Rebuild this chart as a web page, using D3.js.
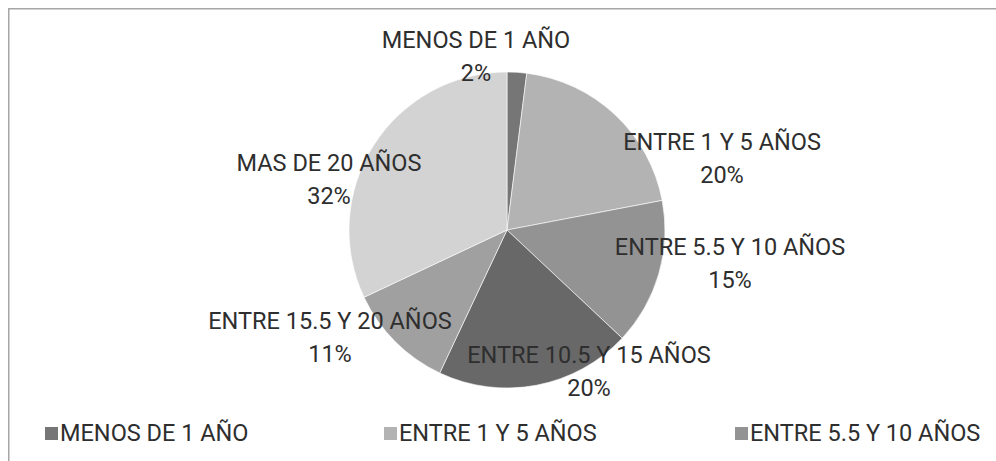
<!DOCTYPE html>
<html><head><meta charset="utf-8">
<script src="https://cdn.jsdelivr.net/npm/d3@7"></script>
<style>html,body{margin:0;padding:0;background:#fff;}svg{display:block;}</style>
</head><body>
<svg id="chart" width="996" height="461"></svg>
<script>
const categories = ["MENOS DE 1 AÑO","ENTRE 1 Y 5 AÑOS","ENTRE 5.5 Y 10 AÑOS","ENTRE 10.5 Y 15 AÑOS","ENTRE 15.5 Y 20 AÑOS","MAS DE 20 AÑOS"];
const values = [2, 20, 15, 20, 11, 32];
const percentLabels = ["2%","20%","15%","20%","11%","32%"];
const legendItems = categories.slice(0, 3);

// layout (not data)
const colors = ["#767676","#b3b3b3","#939393","#686868","#a0a0a0","#d3d3d3"];
const cx = 507, cy = 230, R = 158;
// label anchor offsets relative to the pie centre (x centre, baseline of the first line)
const labelOffsets = [[-31,-182],[215,-80],[223,25],[82,133],[-177,99],[-178,-59]];
const legendX = [45, 384, 735];
const fontFam = "Roboto, 'Liberation Sans', sans-serif";
const fs = "23.5px", fw = 400;

const svg = d3.select("#chart");
svg.append("rect").attr("x",8.75).attr("y",8.75).attr("width",1100).attr("height",600)
  .attr("fill","none").attr("stroke","#a6a6a6").attr("stroke-width",1.5);

const pie = d3.pie().sort(null).value(d => d)(values);
const arc = d3.arc().innerRadius(0).outerRadius(R);
const g = svg.append("g").attr("transform",`translate(${cx},${cy})`);
g.selectAll("path").data(pie).join("path")
  .attr("d", arc).attr("fill",(d,i)=>colors[i])
  .attr("stroke","#ffffff").attr("stroke-width",0.6);

const lg = g.selectAll("g.lbl").data(pie).join("g").attr("class","lbl")
  .attr("transform",(d,i)=>`translate(${labelOffsets[i][0]},${labelOffsets[i][1]})`);
lg.append("text").attr("text-anchor","middle").attr("y",0)
  .style("font-family",fontFam).style("font-size",fs).style("font-weight",fw).attr("fill","#2e2e2e")
  .text((d,i)=>categories[i]);
lg.append("text").attr("text-anchor","middle").attr("y",33)
  .style("font-family",fontFam).style("font-size",fs).style("font-weight",fw).attr("fill","#2e2e2e")
  .text((d,i)=>percentLabels[i]);

const leg = svg.append("g").selectAll("g").data(legendItems).join("g")
  .attr("transform", (d,i) => `translate(${legendX[i]},0)`);
leg.append("rect").attr("x",0).attr("y",427).attr("width",13).attr("height",13)
  .attr("fill",(d,i)=>colors[i]);
leg.append("text").attr("x",15).attr("y",441)
  .style("font-family",fontFam).style("font-size",fs).style("font-weight",fw).attr("fill","#2e2e2e")
  .text(d=>d);
</script>
</body></html>
